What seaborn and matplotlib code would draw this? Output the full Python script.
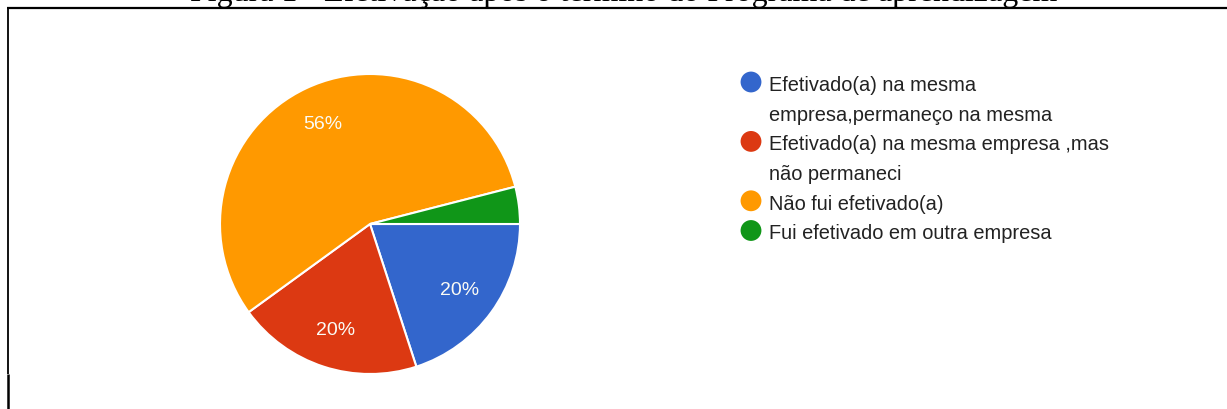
import matplotlib
matplotlib.use("Agg")
import matplotlib.pyplot as plt
from matplotlib.lines import Line2D
import seaborn as sns

# Survey answers (share of respondents, %)
categories = [
    "Efetivado(a) na mesma\nempresa,permaneço na mesma",
    "Efetivado(a) na mesma empresa ,mas\nnão permaneci",
    "Não fui efetivado(a)",
    "Fui efetivado em outra empresa",
]
shares = [20, 20, 56, 4]
colors = ["#3366CC", "#DC3912", "#FF9900", "#109618"]
title = "Figura 1 - Efetivação após o término do Programa de aprendizagem"

sns.set_theme(style="white")
plt.rcParams["font.family"] = ["Liberation Sans", "DejaVu Sans"]

W, H = 1227, 410
fig = plt.figure(figsize=(W / 100, H / 100), dpi=100)
fig.patch.set_facecolor("white")

# Pie: centre (370, 225) px, radius 150 px
cx, cy, r = 370, 225, 150
ax = fig.add_axes([(cx - r) / W, (H - cy - r) / H, 2 * r / W, 2 * r / H])
palette = sns.color_palette(colors)
wedges, texts, autotexts = ax.pie(
    shares,
    colors=palette,
    startangle=0,
    counterclock=False,
    autopct=lambda p: f"{p:.0f}%" if p >= 5 else "",
    pctdistance=0.74,
    wedgeprops=dict(edgecolor="white", linewidth=1.5),
    textprops=dict(color="#fbfbf5", fontsize=14),
)
ax.set_xlim(-1, 1)
ax.set_ylim(-1, 1)
ax.set_aspect("equal")
ax.axis("off")

# Overlay in pixel units for legend, title and frame
ov = fig.add_axes([0, 0, 1, 1], zorder=5)
ov.set_xlim(0, W)
ov.set_ylim(H, 0)
ov.axis("off")
ov.patch.set_alpha(0)

line_step = 29.7
first_center = 83
line_idx = 0
for name, col in zip(categories, colors):
    yc = first_center + line_idx * line_step
    ov.scatter([751], [yc], s=225, color=col, edgecolors="none")
    for j, part in enumerate(name.split("\n")):
        ov.text(769, yc + 8 + j * line_step, part, fontsize=14.4,
                color="#222222", va="baseline", ha="left")
    line_idx += len(name.split("\n"))

# Caption above the frame (only its lower part falls inside the canvas)
ov.text(624, 1.0, title, fontsize=23, family=["Liberation Serif"],
        color="black", ha="center", va="baseline")

# Frame lines
ov.add_line(Line2D([6.5, W], [9, 9], color="black", lw=1.6, solid_capstyle="butt"))
ov.add_line(Line2D([7.5, 7.5], [8, 375], color="black", lw=1.3, solid_capstyle="butt"))
ov.add_line(Line2D([8, 8], [375, H], color="black", lw=1.8, solid_capstyle="butt"))

fig.savefig("out.png", dpi=100, facecolor="white")
